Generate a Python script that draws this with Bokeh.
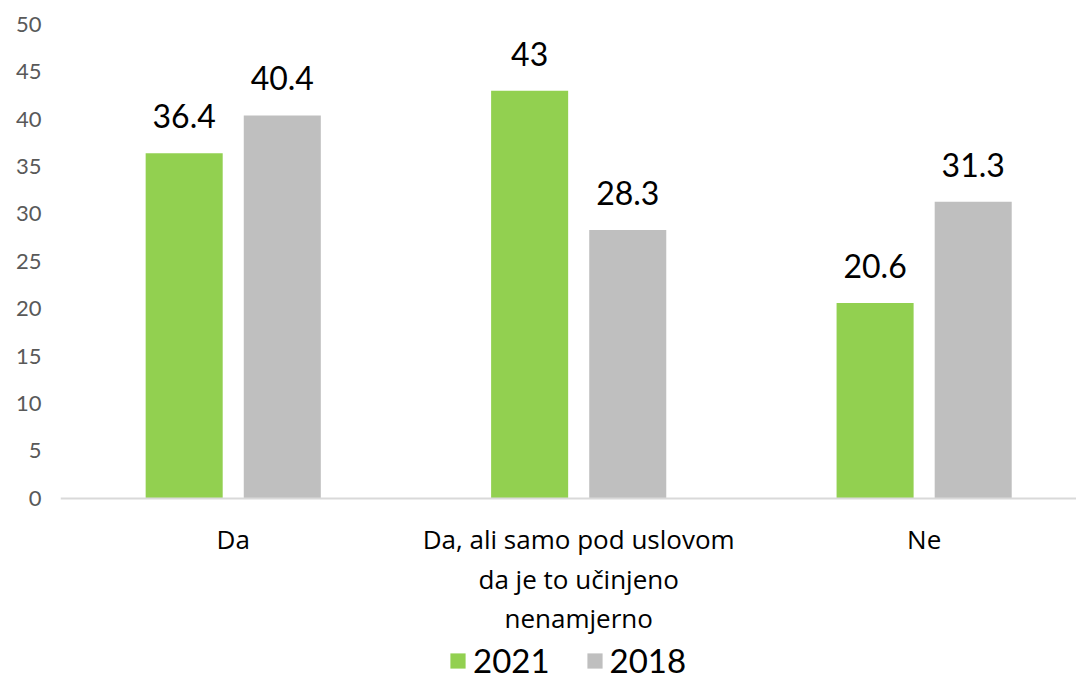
from bokeh.plotting import figure
from bokeh.models import Range1d, FixedTicker, LinearAxis, Legend, LegendItem
from bokeh.core.properties import value
from bokeh.embed import file_html
from bokeh.resources import INLINE

# ---- data ----
categories = ["Da", "Da, ali samo pod uslovom\nda je to učinjeno\nnenamjerno", "Ne"]
series_names = ["2021", "2018"]
values_2021 = [36.4, 43.0, 20.6]
values_2018 = [40.4, 28.3, 31.3]
labels_2021 = ["36.4", "43", "20.6"]
labels_2018 = ["40.4", "28.3", "31.3"]
y_ticks = [0, 5, 10, 15, 20, 25, 30, 35, 40, 45, 50]
colors = ["#92D050", "#BFBFBF"]

FONT = "Lato"
CAT_FONT = "Open Sans"
cat_pos = [i + 0.5 for i in range(len(categories))]
offset = 0.142
bar_w = 0.223
x_2021 = [c - offset for c in cat_pos]
x_2018 = [c + offset for c in cat_pos]

p = figure(width=1076, height=681, output_backend="svg", toolbar_location=None,
           x_range=Range1d(0, 2.941), y_range=Range1d(-19.36, 50),
           x_axis_location=None, y_axis_location=None,
           min_border_left=60, min_border_right=0, min_border_top=24, min_border_bottom=0)
p.outline_line_color = None
p.xgrid.visible = False
p.ygrid.visible = False
p.background_fill_color = "white"

r1 = p.vbar(x=x_2021, top=values_2021, bottom=0, width=bar_w, fill_color=colors[0], line_color=None)
r2 = p.vbar(x=x_2018, top=values_2018, bottom=0, width=bar_w, fill_color=colors[1], line_color=None)

for xs, ys, ls in [(x_2021, values_2021, labels_2021), (x_2018, values_2018, labels_2018)]:
    p.text(x=xs, y=ys, text=ls, text_font=value(FONT), text_font_size="32px",
           text_color="#000000", text_align="center", text_baseline="alphabetic", y_offset=-37)

yaxis = LinearAxis(ticker=FixedTicker(ticks=y_ticks), axis_line_color=None,
                   major_tick_line_color=None, minor_tick_line_color=None,
                   major_label_standoff=13, major_label_text_font=FONT,
                   major_label_text_font_size="22px", major_label_text_color="#595959")
p.add_layout(yaxis, "left")

xaxis = LinearAxis(ticker=FixedTicker(ticks=cat_pos),
                   major_label_overrides={c: n for c, n in zip(cat_pos, categories)},
                   fixed_location=0, axis_line_color="#D9D9D9", axis_line_width=2,
                   major_tick_line_color=None, minor_tick_line_color=None,
                   major_label_standoff=17, major_label_text_font=CAT_FONT,
                   major_label_text_font_size="26px", major_label_text_color="#000000",
                   major_label_text_line_height=1.1)
p.add_layout(xaxis, "below")

legend = Legend(items=[LegendItem(label=series_names[0], renderers=[r1]),
                       LegendItem(label=series_names[1], renderers=[r2])],
                orientation="horizontal", location=(388, 1), border_line_color=None,
                background_fill_alpha=0, label_text_font=FONT, label_text_font_size="33px",
                label_text_color="#000000", glyph_width=19, glyph_height=19,
                label_standoff=6, spacing=35, padding=0, margin=0)
p.add_layout(legend)

open("out.html", "w").write(file_html(p, INLINE))
